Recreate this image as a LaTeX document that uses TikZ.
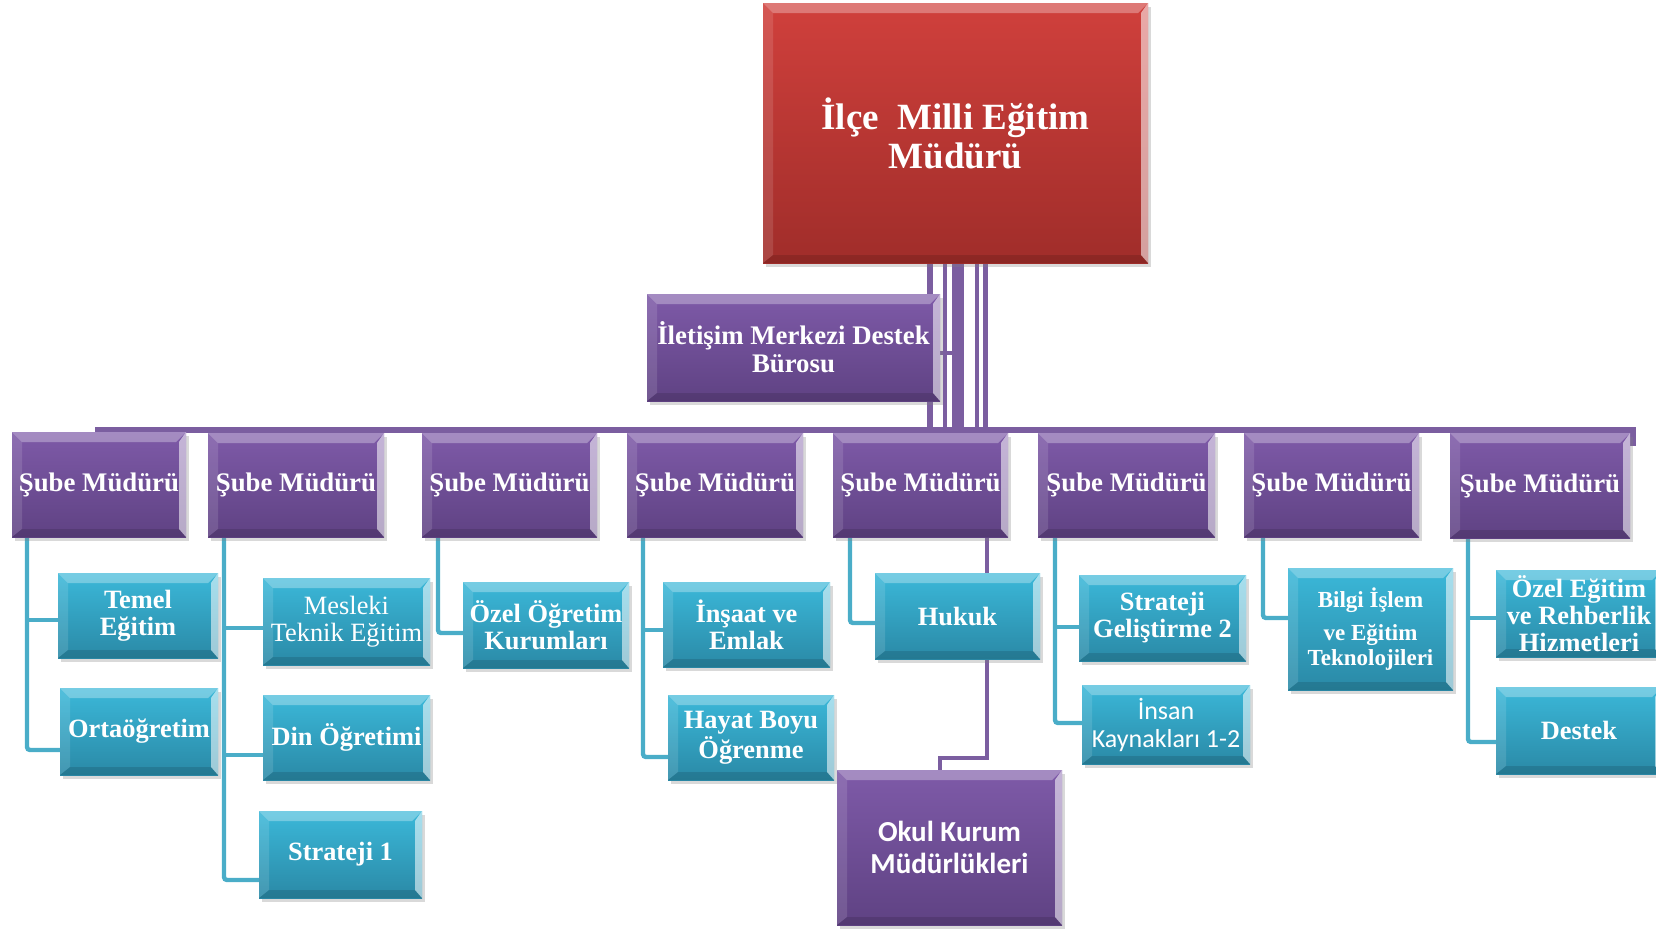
\documentclass[tikz,border=0pt]{standalone}
\usepackage{fontspec}
\setmainfont{Liberation Serif}
\newfontfamily\carl{Carlito}
\usetikzlibrary{shadows}
\pgfdeclarelayer{bg}
\pgfsetlayers{bg,main}
\definecolor{redT}{HTML}{D0403C}
\definecolor{redB}{HTML}{A02D2A}
\definecolor{purT}{HTML}{7E5AA8}
\definecolor{purB}{HTML}{5F4283}
\definecolor{cyT}{HTML}{3BB8D9}
\definecolor{cyB}{HTML}{2A89A6}
\definecolor{plc}{HTML}{7B5EA0}
\definecolor{tlc}{HTML}{4AADC8}
\newcommand\myfs[2]{\fontsize{#1}{#2}\selectfont}
\newcommand\bx[7]{\node[#6,minimum width={(#4-#2)*0.5pt},minimum height={(#5-#3)*0.5pt}] (#1) at ({(#2+#4)/2},{(#3+#5)/2}) {#7};}
\tikzset{
 bev/.style={path picture={
   \fill[white,opacity=.30] (path picture bounding box.north west) -- (path picture bounding box.north east) -- ([shift={(-5pt,-5pt)}]path picture bounding box.north east) -- ([shift={(5pt,-5pt)}]path picture bounding box.north west) -- cycle;
   \fill[white,opacity=.55] (path picture bounding box.north east) -- (path picture bounding box.south east) -- ([shift={(-3.5pt,4pt)}]path picture bounding box.south east) -- ([shift={(-3.5pt,-5pt)}]path picture bounding box.north east) -- cycle;
   \fill[white,opacity=.12] (path picture bounding box.north west) -- (path picture bounding box.south west) -- ([shift={(5pt,4pt)}]path picture bounding box.south west) -- ([shift={(5pt,-5pt)}]path picture bounding box.north west) -- cycle;
   \fill[black,opacity=.12] (path picture bounding box.south west) -- (path picture bounding box.south east) -- ([shift={(-3.5pt,4pt)}]path picture bounding box.south east) -- ([shift={(5pt,4pt)}]path picture bounding box.south west) -- cycle;
 }},
 box/.style={rectangle,inner sep=1pt,outer sep=0pt,align=center,text=white,bev,drop shadow={opacity=.3,shadow xshift=1.5pt,shadow yshift=-2pt}},
 redbox/.style={box,top color=redT,bottom color=redB,font={\bfseries\myfs{18.5}{19.5}}},
 purbox/.style={box,top color=purT,bottom color=purB,font={\bfseries\myfs{13.4}{14}}},
 cybox/.style={box,top color=cyT,bottom color=cyB,font={\bfseries\myfs{13.2}{13.5}}},
 pl/.style={draw=plc,line width=2.5pt},
 tl/.style={draw=tlc,line width=2.2pt,rounded corners=1.5pt},
}
\begin{document}
\begin{tikzpicture}[x=0.5pt,y=-0.5pt]
\useasboundingbox (0,0) rectangle (1656,928);
% top and middle
\bx{top}{763}{3}{1148}{263}{redbox}{İlçe~ Milli Eğitim\\Müdürü}
\bx{ilet}{647}{294}{940}{401}{purbox}{İletişim Merkezi Destek\\Bürosu}
% Şube row
\bx{s1}{12}{432}{186}{537}{purbox}{Şube Müdürü}
\bx{s2}{208}{433}{384}{537}{purbox}{Şube Müdürü}
\bx{s3}{422}{433}{597}{537}{purbox}{Şube Müdürü}
\bx{s4}{627}{433}{803}{537}{purbox}{Şube Müdürü}
\bx{s5}{833}{433}{1008}{537}{purbox}{Şube Müdürü}
\bx{s6}{1038}{433}{1215}{537}{purbox}{Şube Müdürü}
\bx{s7}{1244}{433}{1419}{537}{purbox}{Şube Müdürü}
\bx{s8}{1450}{433}{1630}{538}{purbox}{Şube Müdürü}
% children
\bx{temel}{58}{573}{218}{658}{cybox}{Temel\\Eğitim}
\bx{ort}{60}{688}{218}{775}{cybox}{Ortaöğretim}
\bx{mes}{263}{578}{430}{665}{cybox,font={\mdseries\myfs{13.2}{13.5}}}{Mesleki\\Teknik Eğitim}
\bx{din}{263}{695}{430}{780}{cybox}{Din Öğretimi}
\bx{str}{259}{811}{422}{898}{cybox}{Strateji 1}
\bx{ozo}{463}{582}{629}{668}{cybox}{Özel Öğretim\\Kurumları}
\bx{ins}{663}{582}{830}{667}{cybox}{İnşaat ve\\Emlak}
\bx{hay}{668}{695}{834}{780}{cybox}{Hayat Boyu\\Öğrenme}
\bx{huk}{875}{573}{1040}{659}{cybox}{Hukuk}
\bx{okul}{837}{770}{1062}{925}{purbox,font={\carl\bfseries\myfs{14.5}{16}}}{Okul Kurum\\Müdürlükleri}
\bx{sg}{1079}{575}{1246}{661}{cybox}{Strateji\\Geliştirme 2}
\bx{ik}{1082}{685}{1250}{764}{cybox,font={\carl\mdseries\myfs{13}{14}}}{İnsan\\Kaynakları 1-2}
\bx{bil}{1288}{568}{1453}{690}{cybox,font={\bfseries\myfs{11.5}{12.5}}}{Bilgi İşlem\\[4pt]ve Eğitim\\Teknolojileri}
\bx{ozr}{1496}{570}{1662}{657}{cybox}{Özel Eğitim\\ve Rehberlik\\Hizmetleri}
\bx{des}{1496}{687}{1662}{774}{cybox}{Destek}
\begin{pgfonlayer}{bg}
 % verticals from the top box
 \coordinate (b1) at (930,430); \coordinate (b2) at (945,430);
 \coordinate (b3) at (958,430); \coordinate (b4) at (977,430);
 \coordinate (b5) at (985.5,430);
 \draw[pl,line width=3pt] (top.south -| b1) -- (b1);
 \draw[pl,line width=2pt] (top.south -| b2) -- (b2);
 \draw[pl,line width=6pt] (top.south -| b3) -- (b3);
 \draw[pl,line width=2pt] (top.south -| b4) -- (b4);
 \draw[pl,line width=2.5pt] (top.south -| b5) -- (b5);
 \coordinate (ist) at (962,353);
 \draw[pl,line width=2pt] (ilet.east |- ist) -- (ist);
 % bar
 \coordinate (barL) at (95,430); \coordinate (barR) at (1633,430); \coordinate (barE) at (1633,446);
 \draw[pl,line width=3pt] (barL) -- (barR) -- (barE);
 % col 1
 \coordinate (j11) at (27,620); \coordinate (j12) at (27,750);
 \draw[tl] (s1.south -| j12) -- (j12) -- (ort.west |- j12);
 \draw[tl] (j11) -- (temel.west |- j11);
 % col 2
 \coordinate (j21) at (224,628); \coordinate (j22) at (224,755); \coordinate (j23) at (224,880);
 \draw[tl] (s2.south -| j23) -- (j23) -- (str.west |- j23);
 \draw[tl] (j21) -- (mes.west |- j21);
 \draw[tl] (j22) -- (din.west |- j22);
 % col 3
 \coordinate (j31) at (438,633);
 \draw[tl] (s3.south -| j31) -- (j31) -- (ozo.west |- j31);
 % col 4
 \coordinate (j41) at (643,630); \coordinate (j42) at (643,757);
 \draw[tl] (s4.south -| j42) -- (j42) -- (hay.west |- j42);
 \draw[tl] (j41) -- (ins.west |- j41);
 % col 5
 \coordinate (j51) at (850,623);
 \draw[tl] (s5.south -| j51) -- (j51) -- (huk.west |- j51);
 \coordinate (h1) at (987,600); \coordinate (h2) at (987,758); \coordinate (h3) at (940,758);
 \draw[pl,line width=2.2pt] (s5.south -| h1) -- (huk.north -| h1);
 \draw[pl,line width=2.2pt] (huk.south -| h2) -- (h2) -- (h3) -- (okul.north -| h3);
 % col 6
 \coordinate (j61) at (1055,627); \coordinate (j62) at (1055,723);
 \draw[tl] (s6.south -| j62) -- (j62) -- (ik.west |- j62);
 \draw[tl] (j61) -- (sg.west |- j61);
 % col 7
 \coordinate (j71) at (1263,618);
 \draw[tl] (s7.south -| j71) -- (j71) -- (bil.west |- j71);
 % col 8
 \coordinate (j81) at (1468,618); \coordinate (j82) at (1468,742);
 \draw[tl] (s8.south -| j82) -- (j82) -- (des.west |- j82);
 \draw[tl] (j81) -- (ozr.west |- j81);
\end{pgfonlayer}
\end{tikzpicture}
\end{document}
